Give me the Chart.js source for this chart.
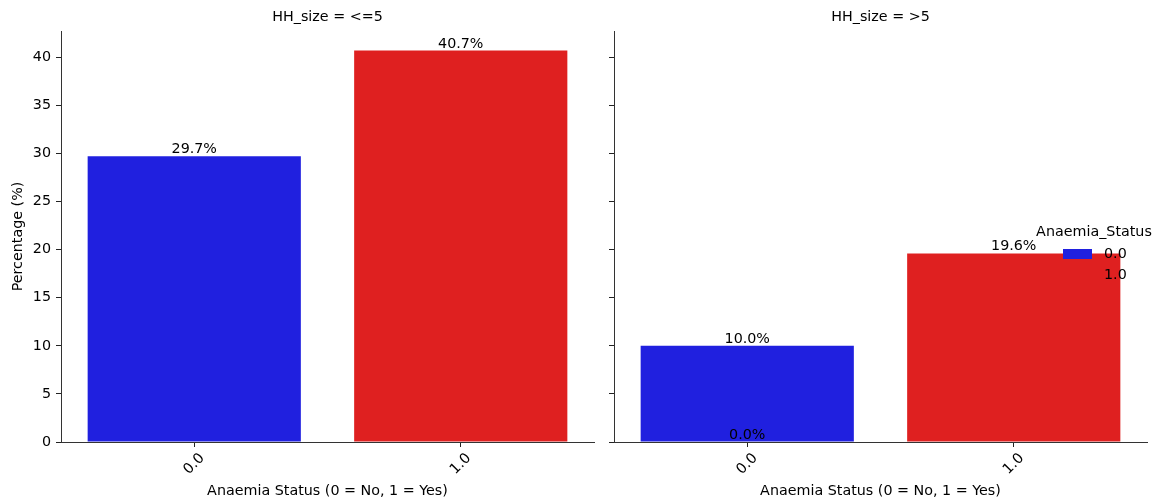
<!DOCTYPE html>
<html>
<head>
<meta charset="utf-8">
<script src="https://cdn.jsdelivr.net/npm/chart.js@4.4.1/dist/chart.umd.min.js"></script>
<style>
  html, body { margin: 0; padding: 0; background: #fff; }
  #wrap { position: relative; width: 1159px; height: 501px; }
  .panel { position: absolute; top: 0; height: 501px; }
</style>
</head>
<body>
<div id="wrap">
  <div class="panel" style="left:0;width:600px"><canvas id="left"></canvas></div>
  <div class="panel" style="left:600px;width:559px"><canvas id="right"></canvas></div>
</div>
<script>
// Data (percent of all respondents)
const categories = ['0.0', '1.0'];
const hueLevels = ['0.0', '1.0'];
const panelTitles = ['HH_size = <=5', 'HH_size = >5'];
const smallHHNo = [29.7, null];
const smallHHYes = [null, 40.7];
const largeHHNo = [10.0, null];
const largeHHYes = [0.0, 19.6];
const yTitle = 'Percentage (%)';
const xTitle = 'Anaemia Status (0 = No, 1 = Yes)';
const legendTitle = 'Anaemia_Status';

const colors = ['#2020df', '#df2020'];
const FONT = '14.3px "DejaVu Sans"';

// matplotlib-style autoscale: 5% headroom above the tallest bar
const allValues = [...smallHHNo, ...smallHHYes, ...largeHHNo, ...largeHHYes].filter(v => v !== null);
const yMax = Math.max(...allValues) * 1.05;

function facetText(title, isLeft) {
  return {
    id: 'facetText',
    afterDraw(chart) {
      const ctx = chart.ctx;
      const a = chart.chartArea;
      const xs = chart.scales.x;
      const midX = (a.left + a.right) / 2;
      ctx.save();
      ctx.font = FONT;
      ctx.fillStyle = '#000';

      // bar value labels
      chart.data.datasets.forEach((ds, di) => {
        const meta = chart.getDatasetMeta(di);
        ds.data.forEach((v, i) => {
          if (v === null) return;
          const el = meta.data[i];
          ctx.textAlign = 'center';
          ctx.textBaseline = 'alphabetic';
          ctx.fillText(v.toFixed(1) + '%', el.x, el.y - 3);
        });
      });

      // rotated, centred category labels
      categories.forEach((c, i) => {
        ctx.save();
        ctx.translate(xs.getPixelForValue(i), a.bottom + 22);
        ctx.rotate(-Math.PI / 4);
        ctx.textAlign = 'center';
        ctx.textBaseline = 'middle';
        ctx.fillText(c, 0, 0);
        ctx.restore();
      });

      ctx.textAlign = 'center';
      ctx.textBaseline = 'middle';
      ctx.fillText(title, midX, 17);
      ctx.fillText(xTitle, midX, 491);

      if (isLeft) {
        ctx.save();
        ctx.translate(18, (a.top + a.bottom) / 2);
        ctx.rotate(-Math.PI / 2);
        ctx.fillText(yTitle, 0, 0);
        ctx.restore();
      } else {
        // figure legend, sits over the right panel
        ctx.fillText(legendTitle, 494, 232);
        hueLevels.forEach((lvl, i) => {
          const y = 254 + i * 21;
          ctx.fillStyle = colors[i];
          ctx.fillRect(463, y - 5, 29, 10);
          ctx.fillStyle = '#000';
          ctx.textAlign = 'left';
          ctx.fillText(lvl, 504, y);
        });
      }
      ctx.restore();
    }
  };
}

function makeFacet(id, noData, yesData, title, isLeft) {
  const axisGrid = {
    offset: false,
    drawOnChartArea: false,
    drawTicks: true,
    tickLength: 5,
    color: '#222',
    lineWidth: 1
  };
  return new Chart(document.getElementById(id), {
    type: 'bar',
    data: {
      labels: categories,
      datasets: [
        { label: hueLevels[0], data: noData, backgroundColor: colors[0] },
        { label: hueLevels[1], data: yesData, backgroundColor: colors[1] }
      ]
    },
    options: {
      responsive: true,
      maintainAspectRatio: false,
      animation: false,
      grouped: false,
      barPercentage: 0.8,
      categoryPercentage: 1,
      borderWidth: 0,
      layout: { padding: { left: 0, right: isLeft ? 6 : 12, top: 31, bottom: 0 } },
      plugins: {
        legend: { display: false },
        tooltip: { enabled: false }
      },
      scales: {
        x: {
          grid: axisGrid,
          border: { display: true, color: '#333', width: 1 },
          ticks: { color: 'rgba(0,0,0,0)', autoSkip: false, maxRotation: 0 },
          afterFit: s => { s.height = 59; }
        },
        y: {
          min: 0,
          max: yMax,
          grid: axisGrid,
          border: { display: true, color: '#333', width: 1 },
          ticks: {
            stepSize: 5,
            includeBounds: false,
            padding: 5,
            color: isLeft ? '#000' : 'rgba(0,0,0,0)',
            font: { family: 'DejaVu Sans', size: 14.3 }
          },
          afterFit: s => { s.width = isLeft ? 61 : 14; }
        }
      }
    },
    plugins: [facetText(title, isLeft)]
  });
}

makeFacet('left', smallHHNo, smallHHYes, panelTitles[0], true);
makeFacet('right', largeHHNo, largeHHYes, panelTitles[1], false);
</script>
</body>
</html>
